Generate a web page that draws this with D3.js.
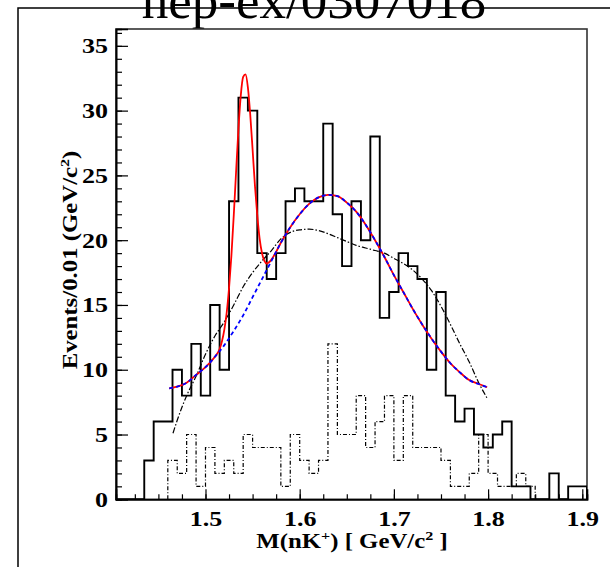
<!DOCTYPE html>
<html><head><meta charset="utf-8">
<script src="https://cdn.jsdelivr.net/npm/d3@7"></script>
<style>body{margin:0;background:#fff}text{font-family:"Liberation Serif","Times New Roman",serif}</style>
</head><body>
<svg id="c" width="610" height="567"></svg>
<script>
// ---- data ----
const histLo = 1.405, histHi = 1.905, binWidth = 0.01;
// solid histogram, bins centred at 1.41 ... 1.90
const solidCounts = [0,0,0,3,6,6,10,8,12,8,15,10,23,31,30,19,17,19,23,24,23,23,29,22,18,23,20,28,14,16,19,18,17,10,16,8,6,7,5,4,5,6,1,1,0,0,2,0,1,1];
// dash-dotted histogram, bins with left edge 1.46 ... 1.84
const dashedStart = 1.46;
const dashedCounts = [3,2,5,1,4,2,3,2,5,4,4,4,1,5,3,2,3,12,5,5,8,4,6,8,3,8,4,4,4,3,1,1,2,5,2,1,1,2,1];
// background curve (blue dashed)
const bgMass = [1.4615,1.47,1.48,1.49,1.50,1.51,1.52,1.53,1.54,1.55,1.56,1.57,1.58,1.59,1.60,1.61,1.62,1.63,1.64,1.65,1.66,1.67,1.68,1.69,1.70,1.71,1.72,1.73,1.74,1.75,1.76,1.77,1.78,1.79,1.799];
const bgVal  = [8.57,8.7,9.0,9.6,10.2,11.0,11.9,13.0,14.2,15.6,17.0,18.4,19.8,21.0,22.0,22.8,23.3,23.5,23.4,22.9,22.2,21.2,20.0,18.7,17.3,16.0,14.7,13.5,12.4,11.4,10.5,9.8,9.2,8.9,8.65];
// full fit (red), peak region sampled finely
const fitMass = [1.4615,1.47,1.48,1.49,1.50,1.51,1.515,1.5175,1.52,1.5225,1.525,1.5275,1.53,1.5325,1.535,1.5375,1.54,1.5425,1.545,1.5475,1.55,1.5525,1.555,1.5575,1.56,1.5625,1.565,1.5675,1.57,1.575,1.58,1.59,1.60,1.61,1.62,1.63,1.64,1.65,1.66,1.67,1.68,1.69,1.70,1.71,1.72,1.73,1.74,1.75,1.76,1.77,1.78,1.79,1.799];
const fitVal  = [8.57,8.7,9.0,9.6,10.2,11.0,11.6,12.2,13.1,14.4,16.3,18.8,21.9,25.3,28.6,31.2,32.6,32.8,31.8,29.7,27.0,24.2,21.9,20.1,19.0,18.4,18.2,18.3,18.5,19.1,19.8,21.0,22.0,22.8,23.3,23.5,23.4,22.9,22.2,21.2,20.0,18.7,17.3,16.0,14.7,13.5,12.4,11.4,10.5,9.8,9.2,8.9,8.65];
// black dash-dotted curve
const altMass = [1.4655,1.47,1.48,1.49,1.50,1.51,1.52,1.53,1.54,1.55,1.56,1.57,1.58,1.59,1.60,1.61,1.62,1.63,1.64,1.65,1.66,1.67,1.68,1.69,1.70,1.71,1.72,1.73,1.74,1.75,1.76,1.77,1.78,1.79,1.799];
const altVal  = [5.1,6.1,8.0,9.5,11.2,12.6,13.7,15.0,16.4,17.5,18.4,19.2,20.1,20.6,20.8,20.85,20.75,20.5,20.2,19.9,19.6,19.4,19.2,19.0,18.6,18.2,17.7,17.0,16.1,14.9,13.5,12.0,10.6,9.0,7.8];
const yTicks = [0,5,10,15,20,25,30,35];
const xTicks = [1.5,1.6,1.7,1.8,1.9];
const yMax = 36.3;

// ---- drawing ----
const svg = d3.select("#c");
const L = 116, R = 587, T = 29, B = 499.3;
const x = d3.scaleLinear().domain([histLo, histHi]).range([L, R]);
const y = d3.scaleLinear().domain([0, yMax]).range([B, T]);

// outer pad frame
svg.append("rect").attr("x",18).attr("y",8).attr("width",640).attr("height",640)
  .attr("fill","none").attr("stroke","#000").attr("stroke-width",1.5);

// title (partly above the page, as in the reference)
svg.append("text").attr("x",314).attr("y",18).attr("text-anchor","middle")
  .attr("font-size",53).text("hep-ex/0307018");

// plot frame
svg.append("rect").attr("x",L).attr("y",T).attr("width",R-L).attr("height",B-T)
  .attr("fill","#fff").attr("stroke","#333").attr("stroke-width",1.6);

svg.append("clipPath").attr("id","pc").append("rect")
  .attr("x",L).attr("y",T).attr("width",R-L).attr("height",B-T);
const g = svg.append("g").attr("clip-path","url(#pc)");

// histograms
const stepLine = d3.line().x(d=>x(d[0])).y(d=>y(d[1])).curve(d3.curveStepAfter);
const solidPts = [[histLo,0]].concat(solidCounts.map((c,i)=>[histLo+i*binWidth,c]));
solidPts.push([histHi, solidCounts[solidCounts.length-1]]);
solidPts.push([histHi, 0]);
g.append("path").attr("d", stepLine(solidPts)).attr("fill","none")
  .attr("stroke","#000").attr("stroke-width",1.9);

const dashPts = [[dashedStart,0]].concat(dashedCounts.map((c,i)=>[dashedStart+i*binWidth,c]));
dashPts.push([dashedStart+dashedCounts.length*binWidth, 0]);
g.append("path").attr("d", stepLine(dashPts)).attr("fill","none")
  .attr("stroke","#000").attr("stroke-width",1.2).attr("stroke-dasharray","4,2,1,2");

// curves
const smooth = d3.line().x(d=>x(d[0])).y(d=>y(d[1])).curve(d3.curveMonotoneX);
g.append("path").attr("d", smooth(altMass.map((m,i)=>[m,altVal[i]]))).attr("fill","none")
  .attr("stroke","#000").attr("stroke-width",1.2).attr("stroke-dasharray","6,2,1.5,2");
g.append("path").attr("d", smooth(fitMass.map((m,i)=>[m,fitVal[i]]))).attr("fill","none")
  .attr("stroke","#ff0000").attr("stroke-width",1.8);
g.append("path").attr("d", smooth(bgMass.map((m,i)=>[m,bgVal[i]]))).attr("fill","none")
  .attr("stroke","#0000ff").attr("stroke-width",1.8).attr("stroke-dasharray","4,3");

// axes
const fontAxis = 20, stretch = 1.3;
const yMajor = d3.axisLeft(y).tickValues(yTicks).tickSize(-12).tickFormat(d3.format("d"));
const yMinor = d3.axisLeft(y).tickValues(d3.range(0,37,1)).tickSize(-6).tickFormat("");
const gy1 = svg.append("g").attr("transform",`translate(${L},0)`).call(yMinor);
const gy2 = svg.append("g").attr("transform",`translate(${L},0)`).call(yMajor);
const xMajor = d3.axisBottom(x).tickValues(xTicks).tickSize(-10).tickFormat(d3.format(".1f"));
const xMinor = d3.axisBottom(x).tickValues(d3.range(1.425,1.906,0.025)).tickSize(-5).tickFormat("");
const gx1 = svg.append("g").attr("transform",`translate(0,${B})`).call(xMinor);
const gx2 = svg.append("g").attr("transform",`translate(0,${B})`).call(xMajor);
[gy1,gy2,gx1,gx2].forEach(a=>{
  a.selectAll(".domain").attr("stroke","#000").attr("stroke-width",1.6);
  a.selectAll(".tick line").attr("stroke","#000").attr("stroke-width",1.2);
  a.selectAll("text").attr("font-family","Liberation Serif").attr("font-weight","bold")
    .attr("font-size",fontAxis).attr("fill","#000");
});
gy2.selectAll("text").attr("x",-8/stretch).attr("dy","0.35em").attr("transform",`scale(${stretch},1)`);
gx2.selectAll("text").attr("y",13).attr("transform",`scale(${stretch},1)`);

// axis titles
const xtg = svg.append("g").attr("transform",`translate(352,548) scale(1.24,1)`);
const xt = xtg.append("text").attr("text-anchor","middle")
  .attr("font-weight","bold").attr("font-size",fontAxis);
xt.append("tspan").text("M(nK");
xt.append("tspan").attr("font-size",13).attr("dy",-8).text("+");
xt.append("tspan").attr("dy",8).text(") [ GeV/c");
xt.append("tspan").attr("font-size",13).attr("dy",-8).text("2");
xt.append("tspan").attr("dy",8).text(" ]");

const ytg = svg.append("g").attr("transform","translate(77,260) rotate(-90) scale(1.24,1)");
const yt = ytg.append("text").attr("text-anchor","middle").attr("font-weight","bold").attr("font-size",fontAxis);
yt.append("tspan").text("Events/0.01 (GeV/c");
yt.append("tspan").attr("font-size",13).attr("dy",-8).text("2");
yt.append("tspan").attr("dy",8).text(")");
</script>
</body></html>
